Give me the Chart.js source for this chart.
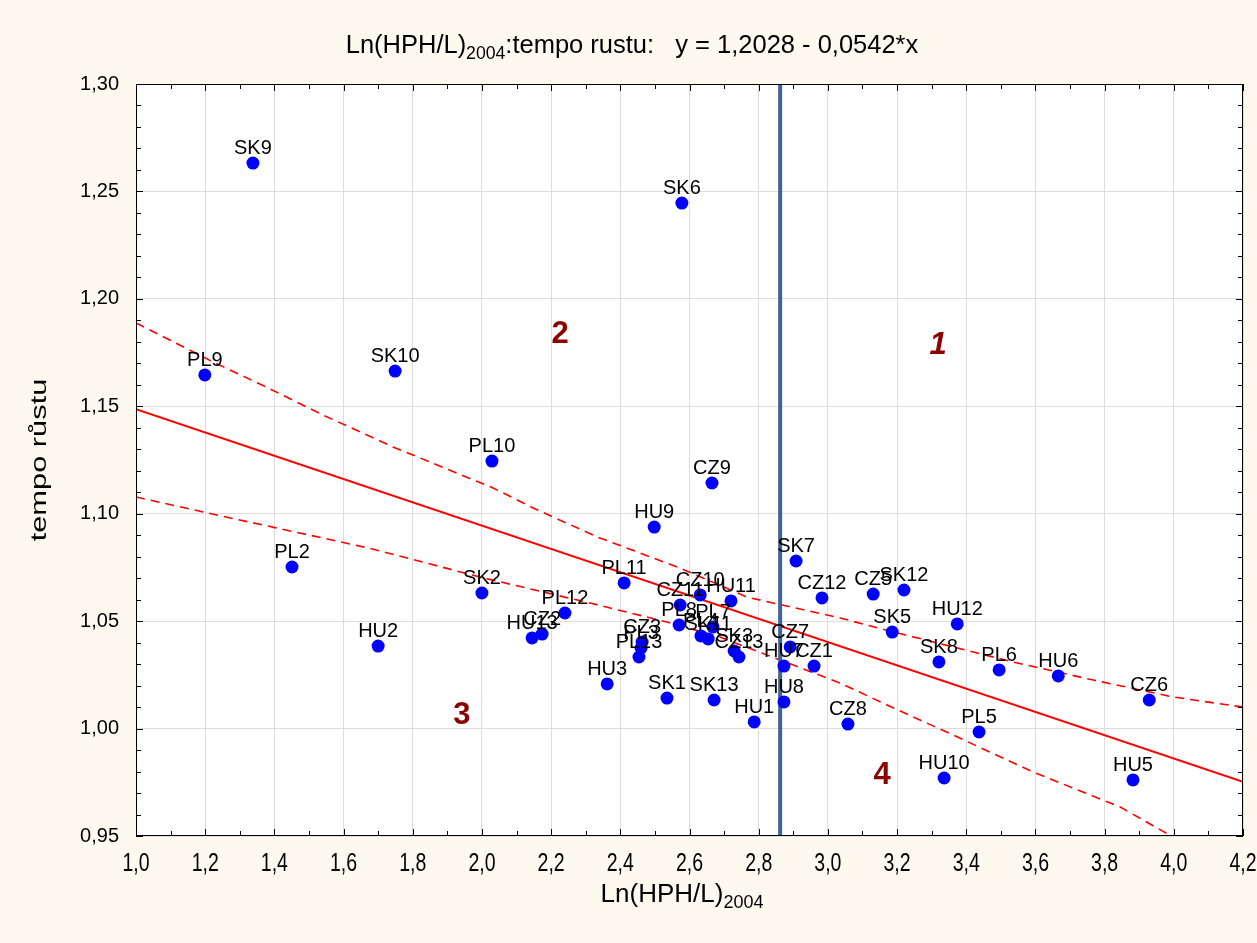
<!DOCTYPE html>
<html>
<head>
<meta charset="utf-8">
<script src="https://cdn.jsdelivr.net/npm/chart.js@4/dist/chart.umd.min.js"></script>
<style>
  body { margin: 0; background: #fdf9ef; }
  #wrap { width: 1257px; height: 943px; }
</style>
</head>
<body>
<div id="wrap"><canvas id="chart" width="1257" height="943"></canvas></div>
<script>
// region labels and their values
const names = ['SK9', 'SK6', 'PL9', 'SK10', 'PL10', 'CZ9', 'HU9', 'PL2', 'SK7', 'SK2',
  'PL11', 'CZ10', 'HU11', 'CZ11', 'PL12', 'HU13', 'CZ2', 'PL8', 'PL4', 'SK11',
  'PL7', 'CZ3', 'PL3', 'PL13', 'HU3', 'SK1', 'SK13', 'HU1', 'SK3', 'CZ13',
  'CZ7', 'HU7', 'CZ1', 'HU8', 'CZ12', 'CZ5', 'SK12', 'SK5', 'HU12', 'SK8',
  'PL6', 'HU6', 'CZ6', 'PL5', 'HU10', 'HU5', 'CZ8', 'HU2'];
const lnHph = [1.338, 2.578, 1.199, 1.749, 2.029, 2.665, 2.498, 1.451, 2.908, 2.000,
  2.411, 2.631, 2.720, 2.573, 2.240, 2.145, 2.174, 2.570, 2.633, 2.654,
  2.668, 2.463, 2.460, 2.454, 2.362, 2.535, 2.671, 2.787, 2.729, 2.743,
  2.891, 2.873, 2.960, 2.873, 2.983, 3.131, 3.220, 3.186, 3.374, 3.321,
  3.495, 3.666, 3.929, 3.437, 3.336, 3.882, 3.058, 1.700];
const tempo = [1.2632, 1.2446, 1.1646, 1.1664, 1.1245, 1.1143, 1.0938, 1.0752, 1.0780, 1.0631,
  1.0678, 1.0622, 1.0594, 1.0575, 1.0538, 1.0422, 1.0440, 1.0482, 1.0431, 1.0417,
  1.0473, 1.0403, 1.0375, 1.0333, 1.0208, 1.0142, 1.0133, 1.0031, 1.0361, 1.0333,
  1.0380, 1.0291, 1.0291, 1.0124, 1.0608, 1.0626, 1.0645, 1.0449, 1.0487, 1.0310,
  1.0273, 1.0245, 1.0133, 0.9984, 0.9770, 0.9761, 1.0021, 1.0384];

// regression line y = 1,2028 - 0,0542*x, end points
const fitX = [1.0, 4.2];
const fitY = [1.1486, 0.9752];

// 95% confidence bands
const upX = [1.000, 1.223, 1.376, 1.541, 1.743, 2.032, 2.148, 2.333, 2.573, 2.766, 3.035, 3.189, 3.535, 3.767, 3.998, 4.200];
const upY = [1.1888, 1.1706, 1.1590, 1.1459, 1.1311, 1.1120, 1.1027, 1.0892, 1.0747, 1.0612, 1.0515, 1.0450, 1.0310, 1.0226, 1.0147, 1.0100];
const loX = [1.000, 1.194, 1.405, 1.674, 1.995, 2.313, 2.535, 2.688, 2.862, 3.035, 3.171, 3.362, 3.593, 3.845, 3.998, 4.200];
const loY = [1.1078, 1.1008, 1.0934, 1.0840, 1.0705, 1.0584, 1.0496, 1.0426, 1.0319, 1.0212, 1.0110, 0.9970, 0.9798, 0.9635, 0.9495, 0.9340];

// vertical divider
const splitX = 2.862;

// quadrant numbers
const quadText = ['1', '2', '3', '4'];
const quadX = [3.319, 2.226, 1.942, 3.157];
const quadY = [1.1785, 1.1833, 1.0059, 0.9784];

const xMin = 1.0, xMax = 4.2, xStep = 0.2;
const yMin = 0.95, yMax = 1.30, yStep = 0.05;

const sans = '"Liberation Sans", Arial, sans-serif';

function pts(xs, ys) {
  return xs.map((x, i) => ({ x: x, y: ys[i] }));
}

function comma(v, d) {
  return v.toFixed(d).replace('.', ',');
}

// text with a subscript part, centred on cx, squeezed by sx
function drawSubText(ctx, parts, cx, y, size, sx) {
  const subSize = Math.round(size * 0.7);
  let total = 0;
  parts.forEach(p => {
    ctx.font = (p.sub ? subSize : size) + 'px ' + sans;
    total += ctx.measureText(p.t).width;
  });
  ctx.save();
  ctx.translate(cx, y);
  ctx.scale(sx, 1);
  let x = -total / 2;
  ctx.textAlign = 'left';
  ctx.textBaseline = 'alphabetic';
  parts.forEach(p => {
    ctx.font = (p.sub ? subSize : size) + 'px ' + sans;
    ctx.fillText(p.t, x, p.sub ? 6 : 0);
    x += ctx.measureText(p.t).width;
  });
  ctx.restore();
}

const decor = {
  id: 'decor',
  beforeDraw(chart) {
    const ctx = chart.ctx;
    const a = chart.chartArea;
    ctx.save();
    ctx.fillStyle = '#fdf9ef';
    ctx.fillRect(0, 0, chart.width, chart.height);
    ctx.fillStyle = '#ffffff';
    ctx.fillRect(a.left, a.top, a.right - a.left, a.bottom - a.top);
    ctx.restore();
  },
  afterDatasetsDraw(chart) {
    const ctx = chart.ctx;
    const xs = chart.scales.x;
    const ys = chart.scales.y;
    ctx.save();

    // point labels
    const meta = chart.getDatasetMeta(0);
    ctx.fillStyle = '#000000';
    ctx.font = '20px ' + sans;
    ctx.textAlign = 'center';
    ctx.textBaseline = 'alphabetic';
    meta.data.forEach((el, i) => {
      ctx.fillText(names[i], el.x, el.y - 9);
    });

    // quadrant numbers
    ctx.fillStyle = '#8b0000';
    ctx.textBaseline = 'middle';
    quadText.forEach((t, i) => {
      ctx.font = (i === 0 ? 'italic ' : '') + 'bold 31px ' + sans;
      ctx.fillText(t, xs.getPixelForValue(quadX[i]), ys.getPixelForValue(quadY[i]));
    });
    ctx.restore();
  },
  afterDraw(chart) {
    const ctx = chart.ctx;
    const a = chart.chartArea;
    const xs = chart.scales.x;
    const ys = chart.scales.y;
    ctx.save();

    // frame
    ctx.strokeStyle = '#000000';
    ctx.lineWidth = 1;
    ctx.strokeRect(a.left + 0.5, a.top + 0.5, a.right - a.left - 1, a.bottom - a.top - 1);

    // inward ticks
    ctx.beginPath();
    for (let i = 0; i <= 32; i++) {
      const px = Math.round(xs.getPixelForValue(xMin + i * 0.1)) + 0.5;
      const len = i % 2 === 0 ? 7 : 5;
      ctx.moveTo(px, a.bottom); ctx.lineTo(px, a.bottom - len);
      ctx.moveTo(px, a.top); ctx.lineTo(px, a.top + len);
    }
    for (let i = 0; i <= 35; i++) {
      const py = Math.round(ys.getPixelForValue(yMin + i * 0.01)) + 0.5;
      const len = i % 5 === 0 ? 7 : 5;
      ctx.moveTo(a.left, py); ctx.lineTo(a.left + len, py);
      ctx.moveTo(a.right, py); ctx.lineTo(a.right - len, py);
    }
    ctx.stroke();

    // x tick labels (condensed, like the original)
    ctx.fillStyle = '#000000';
    xs.ticks.forEach(t => {
      drawSubText(ctx, [{ t: comma(t.value, 1) }], xs.getPixelForValue(t.value), 871, 25, 0.78);
    });

    // titles
    drawSubText(ctx, [
      { t: 'Ln(HPH/L)' },
      { t: '2004', sub: true },
      { t: ':tempo rustu:   y = 1,2028 - 0,0542*x' }
    ], 632, 53, 26, 0.98);
    drawSubText(ctx, [
      { t: 'Ln(HPH/L)' },
      { t: '2004', sub: true }
    ], 682, 902, 26, 1.0);

    ctx.translate(40, 460);
    ctx.rotate(-Math.PI / 2);
    ctx.scale(1.4, 1);
    ctx.font = '22px ' + sans;
    ctx.textAlign = 'center';
    ctx.textBaseline = 'middle';
    ctx.fillText('tempo růstu', 0, 0);
    ctx.restore();
  }
};

const lineStyle = (color, width, dash) => ({
  type: 'line',
  showLine: true,
  borderColor: color,
  borderWidth: width,
  borderDash: dash,
  pointRadius: 0,
  fill: false,
  tension: 0,
  order: 2
});

new Chart(document.getElementById('chart'), {
  type: 'scatter',
  data: {
    datasets: [
      {
        data: pts(lnHph, tempo),
        backgroundColor: '#0000ff',
        borderWidth: 0,
        pointRadius: 6.5,
        order: 0
      },
      Object.assign({ data: pts([splitX, splitX], [yMin, yMax]) }, lineStyle('#3e6593', 4, [])),
      Object.assign({ data: pts(fitX, fitY) }, lineStyle('#ff0000', 2, [])),
      Object.assign({ data: pts(upX, upY) }, lineStyle('#ff0000', 1.6, [9, 6])),
      Object.assign({ data: pts(loX, loY) }, lineStyle('#ff0000', 1.6, [9, 6]))
    ]
  },
  options: {
    responsive: false,
    animation: false,
    layout: { padding: { left: 0, right: 14, top: 84, bottom: 0 } },
    plugins: {
      legend: { display: false },
      tooltip: { enabled: false }
    },
    scales: {
      x: {
        type: 'linear',
        min: xMin,
        max: xMax,
        afterFit(scale) { scale.height = 107; },
        border: { display: false },
        grid: { color: '#dddddd', drawTicks: false },
        ticks: {
          stepSize: xStep,
          display: false,
          callback: v => comma(v, 1)
        }
      },
      y: {
        type: 'linear',
        min: yMin,
        max: yMax,
        afterFit(scale) { scale.width = 136; },
        border: { display: false },
        grid: { color: '#dddddd', drawTicks: false },
        ticks: {
          stepSize: yStep,
          padding: 17,
          color: '#000000',
          font: { family: sans, size: 20 },
          callback: v => comma(v, 2)
        }
      }
    }
  },
  plugins: [decor]
});
</script>
</body>
</html>
